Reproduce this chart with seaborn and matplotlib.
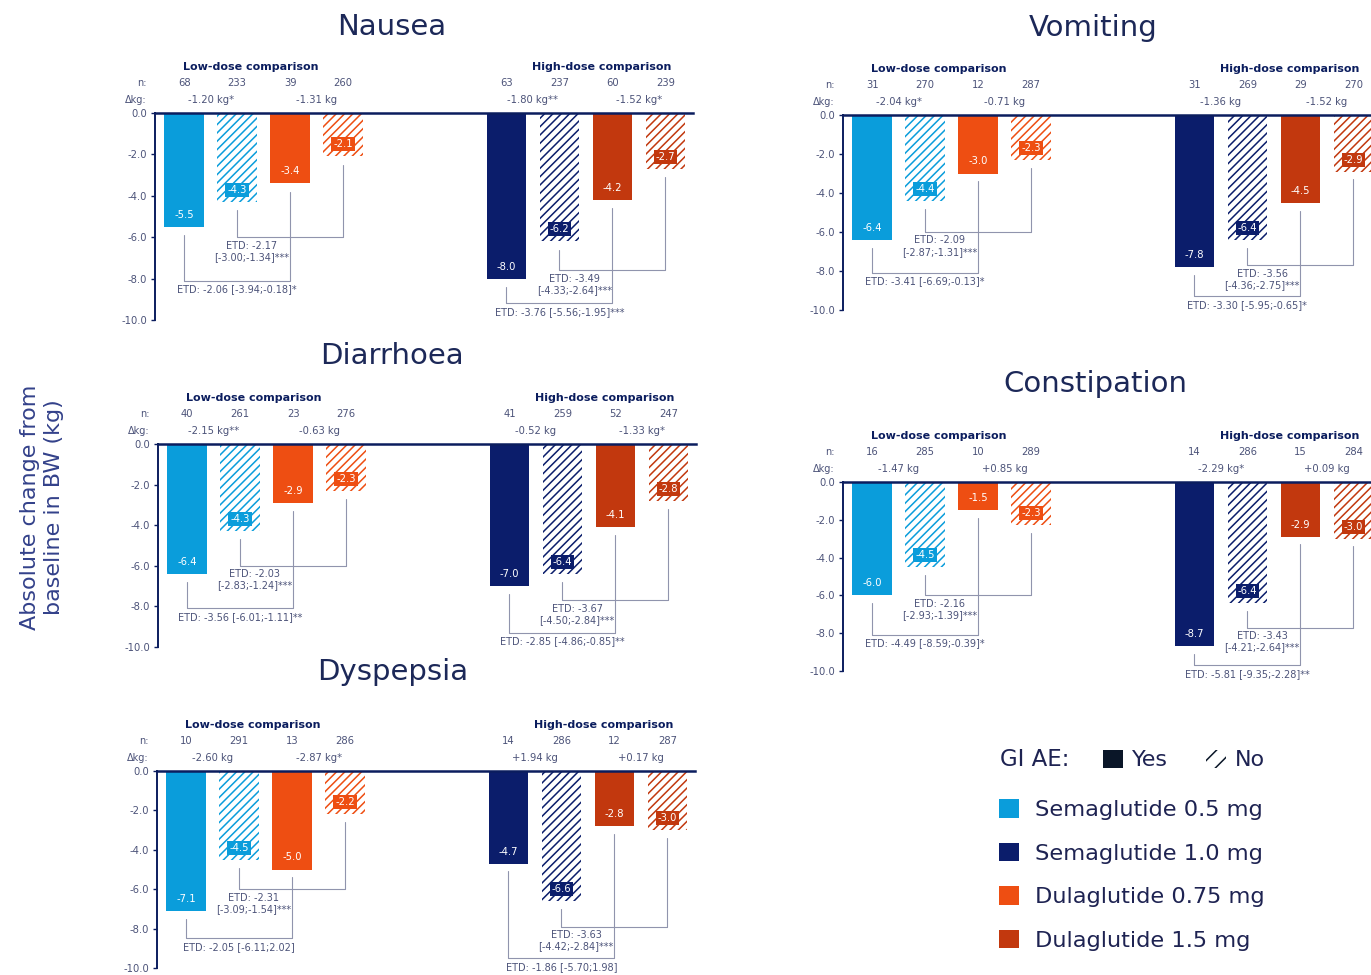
import numpy as np
import pandas as pd
import matplotlib
matplotlib.use("Agg")
import matplotlib.pyplot as plt
import seaborn as sns
from matplotlib.patches import Patch
from matplotlib.transforms import blended_transform_factory

# ---------------------------------------------------------------- data
ARMS = ["Semaglutide 0.5 mg", "Semaglutide 1.0 mg",
        "Dulaglutide 0.75 mg", "Dulaglutide 1.5 mg"]
# bar order within each panel: low-dose group, then high-dose group
BAR_ARM = [0, 0, 2, 2, 1, 1, 3, 3]
BAR_GI = ["Yes", "No", "Yes", "No", "Yes", "No", "Yes", "No"]

nausea_n = [68, 233, 39, 260, 63, 237, 60, 239]
nausea_change = [-5.5, -4.3, -3.4, -2.1, -8.0, -6.2, -4.2, -2.7]
nausea_dkg = ["-1.20 kg*", "-1.31 kg", "-1.80 kg**", "-1.52 kg*"]
nausea_etd = ["ETD: -2.17\n[-3.00;-1.34]***", "ETD: -2.06 [-3.94;-0.18]*",
              "ETD: -3.49\n[-4.33;-2.64]***", "ETD: -3.76 [-5.56;-1.95]***"]

vomiting_n = [31, 270, 12, 287, 31, 269, 29, 270]
vomiting_change = [-6.4, -4.4, -3.0, -2.3, -7.8, -6.4, -4.5, -2.9]
vomiting_dkg = ["-2.04 kg*", "-0.71 kg", "-1.36 kg", "-1.52 kg"]
vomiting_etd = ["ETD: -2.09\n[-2.87;-1.31]***", "ETD: -3.41 [-6.69;-0.13]*",
                "ETD: -3.56\n[-4.36;-2.75]***", "ETD: -3.30 [-5.95;-0.65]*"]

diarrhoea_n = [40, 261, 23, 276, 41, 259, 52, 247]
diarrhoea_change = [-6.4, -4.3, -2.9, -2.3, -7.0, -6.4, -4.1, -2.8]
diarrhoea_dkg = ["-2.15 kg**", "-0.63 kg", "-0.52 kg", "-1.33 kg*"]
diarrhoea_etd = ["ETD: -2.03\n[-2.83;-1.24]***", "ETD: -3.56 [-6.01;-1.11]**",
                 "ETD: -3.67\n[-4.50;-2.84]***", "ETD: -2.85 [-4.86;-0.85]**"]

constipation_n = [16, 285, 10, 289, 14, 286, 15, 284]
constipation_change = [-6.0, -4.5, -1.5, -2.3, -8.7, -6.4, -2.9, -3.0]
constipation_dkg = ["-1.47 kg", "+0.85 kg", "-2.29 kg*", "+0.09 kg"]
constipation_etd = ["ETD: -2.16\n[-2.93;-1.39]***", "ETD: -4.49 [-8.59;-0.39]*",
                    "ETD: -3.43\n[-4.21;-2.64]***", "ETD: -5.81 [-9.35;-2.28]**"]

dyspepsia_n = [10, 291, 13, 286, 14, 286, 12, 287]
dyspepsia_change = [-7.1, -4.5, -5.0, -2.2, -4.7, -6.6, -2.8, -3.0]
dyspepsia_dkg = ["-2.60 kg", "-2.87 kg*", "+1.94 kg", "+0.17 kg"]
dyspepsia_etd = ["ETD: -2.31\n[-3.09;-1.54]***", "ETD: -2.05 [-6.11;2.02]",
                 "ETD: -3.63\n[-4.42;-2.84]***", "ETD: -1.86 [-5.70;1.98]"]

# ---------------------------------------------------------------- style
ARM_COLORS = ["#0a9ddb", "#0b1d6b", "#ee4e12", "#c2380e"]
NAVY = "#0b1d5e"
TEXT = "#4c5379"
BRACKET = "#9094ad"
LEGEND_TEXT = "#1e2352"

sns.set_style("white")
plt.rcParams["font.family"] = ["DejaVu Sans"]
plt.rcParams["hatch.linewidth"] = 1.1

W, H = 1371, 975
PANEL_W = 538          # axes width in px
UNIT_PX = 53           # px per bar slot
X0 = -0.55             # left limit (axis sits just left of first bar)
GROUP_GAP = 2.08       # extra slots between low- and high-dose groups

POS = [i + (GROUP_GAP if i >= 4 else 0) for i in range(8)]
BAR_KEYS = [f"{ARMS[a]} | {g}" for a, g in zip(BAR_ARM, BAR_GI)]
BAR_COLORS = [ARM_COLORS[a] for a in BAR_ARM]

fig = plt.figure(figsize=(W / 100, H / 100), dpi=100)
fig.patch.set_facecolor("white")


def px2pt(v):
    return v * 0.72


def draw_panel(title, n, change, dkg, etd, left, zero, bottom, title_xy):
    ax = fig.add_axes([left / W, 1 - bottom / H, PANEL_W / W, (bottom - zero) / H])
    df = pd.DataFrame({"pos": POS, "change": change, "bar": BAR_KEYS})
    sns.barplot(data=df, x="pos", y="change", hue="bar", hue_order=BAR_KEYS,
                palette=BAR_COLORS, native_scale=True, width=0.75,
                errorbar=None, legend=False, saturation=1, linewidth=0, ax=ax)

    # "No GI AE" bars: white with diagonal hatching in the arm colour
    for p in ax.patches:
        xc = p.get_x() + p.get_width() / 2
        i = int(np.argmin([abs(xc - q) for q in POS]))
        if BAR_GI[i] == "No":
            p.set_facecolor("white")
            p.set_edgecolor(BAR_COLORS[i])
            p.set_hatch("////")
            p.set_linewidth(0)

    ax.set_xlim(X0, X0 + PANEL_W / UNIT_PX)
    ax.set_ylim(-10, 0)
    ax.set_xticks([])
    ticks = np.arange(-10, 1, 2)
    ax.set_yticks(ticks)
    ax.set_yticklabels([f"{v:.1f}" for v in ticks])
    ax.set_xlabel("")
    ax.set_ylabel("")
    ax.tick_params(axis="y", direction="out", length=3, width=1, color=NAVY,
                   labelsize=7.2, labelcolor=TEXT, pad=2.5, left=True)
    for s in ("right", "bottom"):
        ax.spines[s].set_visible(False)
    ax.spines["top"].set_color(NAVY)
    ax.spines["top"].set_linewidth(1.8)
    ax.spines["left"].set_color(NAVY)
    ax.spines["left"].set_linewidth(1.4)
    ax.spines["left"].set_bounds(-10, 0)

    # value labels inside the bars
    for i, v in enumerate(change):
        box = None
        if BAR_GI[i] == "No":
            box = dict(boxstyle="square,pad=0.2", fc=BAR_COLORS[i], ec="none")
        ax.annotate(f"{v:.1f}", xy=(POS[i], v), xytext=(0, px2pt(12)),
                    textcoords="offset points", ha="center", va="center",
                    fontsize=7.2, color="white", bbox=box)

    # header rows: group titles, n and between-group differences
    for g, (label, shift) in enumerate([("Low-dose comparison", -0.25),
                                        ("High-dose comparison", 0.3)]):
        xc = (POS[4 * g] + POS[4 * g + 3]) / 2 + shift
        ax.annotate(label, xy=(xc, 0), xytext=(0, px2pt(46)),
                    textcoords="offset points", ha="center", va="center",
                    fontsize=8, fontweight="bold", color=NAVY,
                    annotation_clip=False)
    for i, v in enumerate(n):
        ax.annotate(str(v), xy=(POS[i], 0), xytext=(0, px2pt(30)),
                    textcoords="offset points", ha="center", va="center",
                    fontsize=7.2, color=TEXT, annotation_clip=False)
    for k, d in enumerate(dkg):
        xc = (POS[2 * k] + POS[2 * k + 1]) / 2
        ax.annotate(d, xy=(xc, 0), xytext=(0, px2pt(13)),
                    textcoords="offset points", ha="center", va="center",
                    fontsize=7.2, color=TEXT, annotation_clip=False)
    trans = blended_transform_factory(ax.transAxes, ax.transData)
    for label, dy in (("n:", 30), ("Δkg:", 13)):
        ax.annotate(label, xy=(0, 0), xycoords=trans,
                    xytext=(px2pt(-8), px2pt(dy)), textcoords="offset points",
                    ha="right", va="center", fontsize=7, color=TEXT,
                    annotation_clip=False)

    # estimated treatment difference brackets
    gap = 0.4
    for g in range(2):
        b = [change[4 * g + j] for j in range(4)]
        x = [POS[4 * g + j] for j in range(4)]
        if g == 0:
            level_a = min(-6.0, b[1] - 1.5)
            level_b = min(-8.1, b[0] - 1.4, level_a - 2.1)
        else:
            level_a = min(-7.6, b[1] - 1.3)
            level_b = min(-9.1, b[0] - 1.0, level_a - 1.6)
        for (i, j), lvl, txt, tx in (((1, 3), level_a, etd[2 * g], (x[1] + x[2]) / 2 - 0.22),
                                     ((0, 2), level_b, etd[2 * g + 1], (x[0] + x[2]) / 2)):
            ax.plot([x[i], x[i], x[j], x[j]],
                    [b[i] - gap, lvl, lvl, b[j] - gap],
                    color=BRACKET, lw=0.8, clip_on=False, zorder=1)
            ax.annotate(txt, xy=(tx, lvl), xytext=(0, -2.5),
                        textcoords="offset points", ha="center", va="top",
                        fontsize=7, color=TEXT, linespacing=1.15,
                        annotation_clip=False)

    fig.text(title_xy[0] / W, 1 - title_xy[1] / H, title, ha="center",
             va="center", fontsize=21, color="#1c2858")
    return ax


draw_panel("Nausea", nausea_n, nausea_change, nausea_dkg, nausea_etd,
           155, 113, 320, (392, 27))
draw_panel("Vomiting", vomiting_n, vomiting_change, vomiting_dkg, vomiting_etd,
           843, 115, 310, (1093, 28))
draw_panel("Diarrhoea", diarrhoea_n, diarrhoea_change, diarrhoea_dkg,
           diarrhoea_etd, 158, 444, 647, (392, 356))
draw_panel("Constipation", constipation_n, constipation_change,
           constipation_dkg, constipation_etd, 843, 482, 671, (1095, 384))
draw_panel("Dyspepsia", dyspepsia_n, dyspepsia_change, dyspepsia_dkg,
           dyspepsia_etd, 157, 771, 968, (393, 672))

# shared y-axis label
fig.text(42 / W, 1 - 507 / H, "Absolute change from\nbaseline in BW (kg)",
         rotation=90, ha="center", va="center", fontsize=16,
         color="#33418a", linespacing=1.2)

# legend: GI adverse event status
fig.text(1000 / W, 1 - 760 / H, "GI AE:", ha="left", va="center",
         fontsize=16.5, color=LEGEND_TEXT)
fig.legend(handles=[Patch(facecolor="#0a1628", edgecolor="none"),
                    Patch(facecolor="white", edgecolor="#0a1628", hatch="//",
                          linewidth=0)],
           labels=["Yes", "No"], ncol=2, loc="center left",
           bbox_to_anchor=(1103 / W, 1 - 760 / H), frameon=False,
           fontsize=16, handlelength=0.9, handleheight=0.9,
           handletextpad=0.4, columnspacing=1.7, borderpad=0,
           borderaxespad=0, labelcolor=LEGEND_TEXT)

# legend: treatment arms
fig.legend(handles=[Patch(facecolor=c, edgecolor="none") for c in ARM_COLORS],
           labels=ARMS, loc="upper left",
           bbox_to_anchor=(999 / W, 1 - 799 / H), frameon=False,
           fontsize=16.2, handlelength=0.9, handleheight=0.9,
           handletextpad=0.7, labelspacing=1.0, borderpad=0,
           borderaxespad=0, labelcolor=LEGEND_TEXT)

fig.savefig("out.png", dpi=100, facecolor="white")
